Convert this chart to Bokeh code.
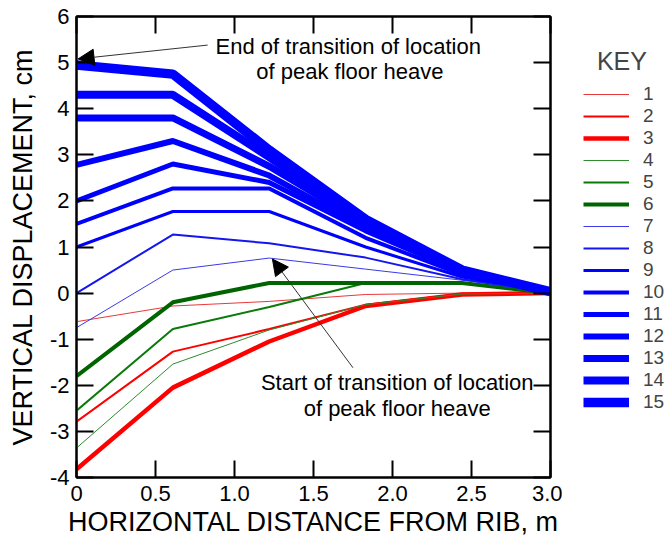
from bokeh.plotting import figure
from bokeh.layouts import row
from bokeh.models import (Range1d, LinearAxis, Legend, LegendItem, Label, Arrow,
                          NormalHead, FixedTicker, CustomJSTickFormatter)
from bokeh.embed import file_html
from bokeh.resources import INLINE

# ---- data ----
distance_m = [0.0, 0.61, 1.22, 1.83, 2.44, 3.0]
key_labels = ["1", "2", "3", "4", "5", "6", "7", "8", "9", "10", "11", "12", "13", "14", "15"]
disp_1 = [-0.62, -0.28, -0.18, -0.03, 0.0, 0.0]
disp_2 = [-2.79, -1.27, -0.78, -0.25, -0.02, 0.0]
disp_3 = [-3.82, -2.05, -1.05, -0.28, -0.03, 0.0]
disp_4 = [-3.36, -1.54, -0.80, -0.25, -0.02, 0.0]
disp_5 = [-2.55, -0.78, -0.30, 0.22, 0.22, 0.0]
disp_6 = [-1.80, -0.20, 0.22, 0.22, 0.22, 0.0]
disp_7 = [-0.75, 0.50, 0.76, 0.52, 0.28, 0.02]
disp_8 = [0.00, 1.27, 1.08, 0.77, 0.30, 0.02]
disp_9 = [1.00, 1.77, 1.77, 1.00, 0.35, 0.03]
disp_10 = [1.50, 2.27, 2.27, 1.20, 0.40, 0.03]
disp_11 = [2.00, 2.80, 2.40, 1.35, 0.45, 0.03]
disp_12 = [2.78, 3.30, 2.55, 1.40, 0.45, 0.03]
disp_13 = [3.80, 3.80, 2.75, 1.50, 0.50, 0.03]
disp_14 = [4.30, 4.30, 2.95, 1.55, 0.50, 0.03]
disp_15 = [4.95, 4.75, 3.10, 1.60, 0.50, 0.03]
all_series = [disp_1, disp_2, disp_3, disp_4, disp_5, disp_6, disp_7, disp_8,
              disp_9, disp_10, disp_11, disp_12, disp_13, disp_14, disp_15]

line_colors = ["#e8383a", "#ff0000", "#ff0000", "#2e8b2e", "#0a7a0a", "#006400",
               "#3a3ae8", "#1515f0", "#0000ff", "#0000ff", "#0000ff", "#0000ff",
               "#0000ff", "#0000ff", "#0000ff"]
line_widths = [1, 2, 4.5, 1, 2, 4, 1, 2, 3, 4, 5, 6, 7, 8, 9.5]

x_ticks = [0, 0.5, 1.0, 1.5, 2.0, 2.5, 3.0]
x_tick_labels = ["0", "0.5", "1.0", "1.5", "2.0", "2.5", "3.0"]
y_ticks = [-4, -3, -2, -1, 0, 1, 2, 3, 4, 5, 6]
y_tick_labels = ["-4", "-3", "-2", "-1", "0", "1", "2", "3", "4", "5", "6"]

# annotation texts (data coords) and arrows
note_texts = ["End of transition of location", "of peak floor heave",
              "Start of transition of location", "of peak floor heave"]
note_x = [1.72, 1.73, 2.03, 2.03]
note_y = [5.35, 4.81, -1.95, -2.5]
arrow_start = [(0.83, 5.38), (1.75, -1.62)]
arrow_end = [(0.01, 5.08), (1.24, 0.74)]

FONT = "Liberation Sans"
W_MAIN, W_KEY, H = 562, 103, 545

p = figure(width=W_MAIN, height=H, output_backend="svg", toolbar_location=None,
           x_range=Range1d(0, 3.0), y_range=Range1d(-4, 6),
           min_border_left=76, min_border_right=12, min_border_top=16,
           min_border_bottom=68)
p.xgrid.visible = False
p.ygrid.visible = False
p.outline_line_color = "black"
p.outline_line_width = 2
p.background_fill_color = "white"
p.border_fill_color = "white"

for ys, c, w in zip(all_series, line_colors, line_widths):
    p.line(distance_m, ys, line_color=c, line_width=w)

def style_axis(ax):
    ax.axis_line_color = "black"
    ax.axis_line_width = 2
    ax.major_tick_line_color = "black"
    ax.major_tick_line_width = 2
    ax.major_tick_in = 17
    ax.major_tick_out = 0
    ax.minor_tick_line_color = None
    ax.major_label_text_font = FONT
    ax.major_label_text_font_size = "22px"
    ax.major_label_text_color = "black"
    ax.axis_label_text_font = FONT
    ax.axis_label_text_font_size = "27px"
    ax.axis_label_text_font_style = "normal"
    ax.axis_label_text_color = "black"

xax = p.xaxis[0]
xax.ticker = FixedTicker(ticks=x_ticks)
xax.major_label_overrides = {t: l for t, l in zip(x_ticks, x_tick_labels)}
style_axis(xax)
xax.axis_label = "HORIZONTAL DISTANCE FROM RIB, m"
xax.major_label_standoff = 8
xax.axis_label_standoff = 3

yax = p.yaxis[0]
yax.ticker = FixedTicker(ticks=y_ticks)
yax.major_label_overrides = {t: l for t, l in zip(y_ticks, y_tick_labels)}
style_axis(yax)
yax.axis_label = "VERTICAL DISPLACEMENT, cm"
yax.major_label_standoff = 7
yax.axis_label_standoff = 9

blank = CustomJSTickFormatter(code="return ''")
top_ax = LinearAxis(ticker=FixedTicker(ticks=x_ticks), formatter=blank)
style_axis(top_ax)
top_ax.major_label_standoff = 0
p.add_layout(top_ax, "above")
right_ax = LinearAxis(ticker=FixedTicker(ticks=y_ticks), formatter=blank)
style_axis(right_ax)
right_ax.major_label_standoff = 0
p.add_layout(right_ax, "right")

for (xs, ys), (xe, ye) in zip(arrow_start, arrow_end):
    p.add_layout(Arrow(end=NormalHead(size=16, fill_color="black", line_color="black"),
                       x_start=xs, y_start=ys, x_end=xe, y_end=ye,
                       line_color="#333333", line_width=1))

for txt, xv, yv in zip(note_texts, note_x, note_y):
    p.add_layout(Label(x=xv, y=yv, text=txt, text_align="center", text_baseline="middle",
                       text_font=FONT, text_font_size="22px", text_color="black"))

# ---- key (legend) panel: same series, ranges chosen so only the key shows ----
k = figure(width=W_KEY, height=H, output_backend="svg", toolbar_location=None,
           x_range=Range1d(100, 101), y_range=Range1d(100, 101),
           x_axis_type=None, y_axis_type=None,
           min_border_left=0, min_border_right=0, min_border_top=0, min_border_bottom=0)
k.xgrid.visible = False
k.ygrid.visible = False
k.outline_line_color = None
k.background_fill_color = "white"
k.border_fill_color = "white"

key_renderers = [k.line(distance_m, ys, line_color=c, line_width=w)
                 for ys, c, w in zip(all_series, line_colors, line_widths)]
items = [LegendItem(label=lab, renderers=[r]) for lab, r in zip(key_labels, key_renderers)]
legend = Legend(items=items, title="\u00a0\u00a0KEY", location=(21, 64),
                margin=0, padding=0, spacing=0, glyph_width=46, glyph_height=22,
                label_height=22, label_standoff=14,
                label_text_font=FONT, label_text_font_size="19px",
                title_text_font=FONT, title_text_font_size="25px",
                title_text_font_style="normal", title_standoff=7,
                border_line_color=None, background_fill_alpha=0)
k.add_layout(legend, "center")

open("out.html", "w").write(file_html(row(p, k), INLINE))
